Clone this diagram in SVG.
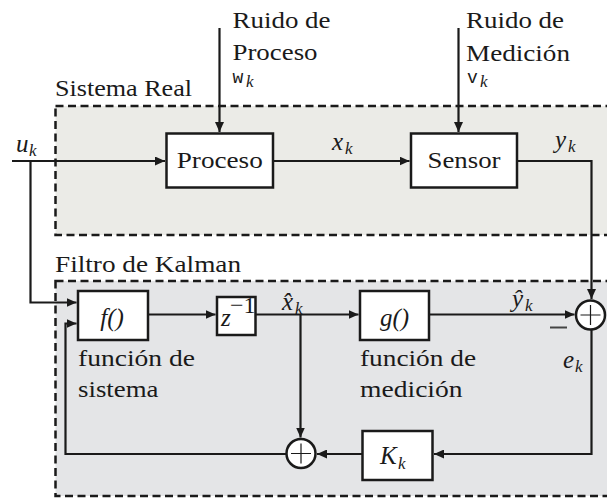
<svg xmlns="http://www.w3.org/2000/svg" width="607" height="498" viewBox="0 0 607 498">
<style>
.t{font-family:"Liberation Serif","DejaVu Serif","Noto Serif",Georgia,serif;font-size:24px;fill:#1a1a1a}
.m{font-family:"Liberation Serif","DejaVu Serif","Noto Serif",Georgia,serif;font-style:italic;font-size:25px;fill:#1a1a1a}
.s{font-family:"Liberation Serif","DejaVu Serif","Noto Serif",Georgia,serif;font-style:italic;font-size:17px;fill:#1a1a1a}
.mono{font-family:"Liberation Mono","DejaVu Sans Mono","Courier New",monospace;font-size:18px;fill:#1a1a1a}
.box{fill:#ffffff;stroke:#1a1a1a;stroke-width:2.5}
.dash{stroke:#1a1a1a;stroke-width:2.5;stroke-dasharray:8 4.5}
.ln{fill:none;stroke:#1a1a1a;stroke-width:2.2}
.plus{stroke:#1a1a1a;stroke-width:1.2}
</style>
<defs>
<marker id="ar" markerUnits="userSpaceOnUse" markerWidth="10" markerHeight="9" refX="10" refY="4.5" orient="auto">
<path d="M0,0 L10,4.5 L0,9 z" fill="#1a1a1a"/>
</marker>
</defs>

<g id="sistema-real">
<rect x="55.5" y="106" width="570" height="129" fill="#ebebe7" class="dash"/>
<text class="t" x="55" y="96" textLength="137" lengthAdjust="spacingAndGlyphs">Sistema Real</text>
</g>
<g id="filtro-kalman">
<rect x="55.5" y="281" width="570" height="215" fill="#e4e5e7" class="dash"/>
<text class="t" x="55" y="272" textLength="186" lengthAdjust="spacingAndGlyphs">Filtro de Kalman</text>
</g>

<g id="ruido-proceso">
<text class="t" x="232.5" y="28" textLength="98" lengthAdjust="spacingAndGlyphs">Ruido de</text>
<text class="t" x="232.5" y="60" textLength="85" lengthAdjust="spacingAndGlyphs">Proceso</text>
<text class="mono" x="232.5" y="83">w</text><text class="s" x="246" y="87">k</text>
</g>
<g id="ruido-medicion">
<text class="t" x="466" y="28" textLength="98" lengthAdjust="spacingAndGlyphs">Ruido de</text>
<text class="t" x="466" y="61" textLength="104" lengthAdjust="spacingAndGlyphs">Medición</text>
<text class="mono" x="467" y="83">v</text><text class="s" x="480" y="87">k</text>
</g>

<g id="proceso">
<rect class="box" x="166.5" y="133.5" width="106.5" height="54"/>
<text class="t" x="219.75" y="168" text-anchor="middle" textLength="86" lengthAdjust="spacingAndGlyphs">Proceso</text>
</g>
<g id="sensor">
<rect class="box" x="411" y="133.5" width="106" height="54"/>
<text class="t" x="464" y="168" text-anchor="middle" textLength="73" lengthAdjust="spacingAndGlyphs">Sensor</text>
</g>

<g id="f">
<rect class="box" x="78" y="291" width="70" height="49"/>
<text class="m" x="112" y="326" text-anchor="middle" font-size="28">f()</text>
<text class="t" x="78" y="366" textLength="117" lengthAdjust="spacingAndGlyphs">función de</text>
<text class="t" x="78" y="397" textLength="80.5" lengthAdjust="spacingAndGlyphs">sistema</text>
</g>
<g id="z">
<rect class="box" x="217" y="297" width="38.5" height="38"/>
<text class="m" x="221" y="326" fill="#555" font-size="22">z</text>
<text class="t" x="230" y="313" font-size="17">−1</text>
</g>
<g id="g">
<rect class="box" x="360" y="291" width="69" height="49"/>
<text class="m" x="394.5" y="326" text-anchor="middle" font-size="28">g()</text>
<text class="t" x="360" y="366" textLength="116" lengthAdjust="spacingAndGlyphs">función de</text>
<text class="t" x="360" y="397" textLength="102.6" lengthAdjust="spacingAndGlyphs">medición</text>
</g>
<g id="sum1">
<circle cx="590.5" cy="315" r="14.5" fill="#fff" stroke="#1a1a1a" stroke-width="2.5"/>
<path class="plus" d="M580.5,315 H600.5 M590.5,305 V325"/>
</g>
<g id="sum2">
<circle cx="301" cy="453.5" r="14.5" fill="#fff" stroke="#1a1a1a" stroke-width="2.5"/>
<path class="plus" d="M291,453.5 H311 M301,443.5 V463.5"/>
</g>
<g id="K">
<rect class="box" x="362.5" y="431" width="70" height="49"/>
<text class="m" x="380" y="464" font-size="27">K</text><text class="s" x="398" y="469">k</text>
</g>

<g id="connectors">
<path class="ln" d="M219.5,28 V132" marker-end="url(#ar)"/>
<path class="ln" d="M458.5,28 V132" marker-end="url(#ar)"/>
<path class="ln" d="M12,161 H165" marker-end="url(#ar)"/>
<path class="ln" d="M30.5,161 V302.5 H76.5" marker-end="url(#ar)"/>
<path class="ln" d="M273,161 H409.5" marker-end="url(#ar)"/>
<path class="ln" d="M517,161 H591.5 V299" marker-end="url(#ar)"/>
<path class="ln" d="M148,314.5 H215.5" marker-end="url(#ar)"/>
<path class="ln" d="M255.5,314.5 H358.5" marker-end="url(#ar)"/>
<path class="ln" d="M300.5,314.5 V437.5" marker-end="url(#ar)"/>
<path class="ln" d="M429,314.5 H574.5" marker-end="url(#ar)"/>
<path class="ln" d="M591.5,330 V454 H434" marker-end="url(#ar)"/>
<path class="ln" d="M362.5,454 H317" marker-end="url(#ar)"/>
<path class="ln" d="M286.5,454 H65.5 V323.5 H76.5" marker-end="url(#ar)"/>
<path d="M550,327.5 H567" stroke="#444" stroke-width="2"/>
</g>

<g id="labels">
<text class="m" x="16" y="152">u</text><text class="s" x="29" y="156">k</text>
<text class="m" x="332" y="150">x</text><text class="s" x="345" y="154">k</text>
<text class="m" x="555" y="148">y</text><text class="s" x="568" y="152">k</text>
<text class="m" x="282" y="310">x̂</text><text class="s" x="295" y="314">k</text>
<text class="m" x="512" y="307">ŷ</text><text class="s" x="525" y="311">k</text>
<text class="m" x="563" y="368">e</text><text class="s" x="575" y="372">k</text>
</g>
</svg>
